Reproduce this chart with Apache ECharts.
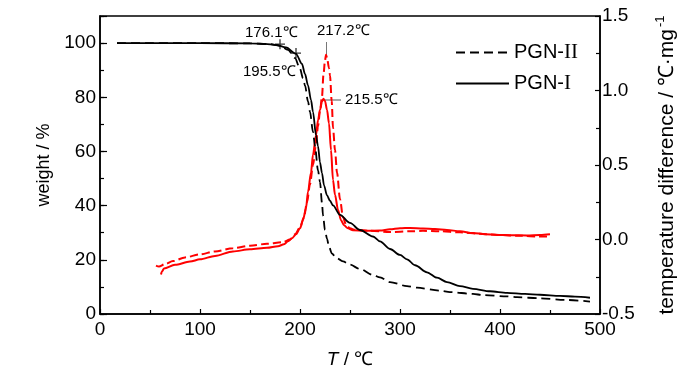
<!DOCTYPE html>
<html>
<head>
<meta charset="utf-8">
<script src="https://cdn.jsdelivr.net/npm/echarts@6/dist/echarts.min.js"></script>
<style>html,body{margin:0;padding:0;background:#fff}#c{width:700px;height:374px}</style>
</head>
<body>
<div id="c"></div>
<script>
// ---- data ----
const xTicks = [0, 100, 200, 300, 400, 500];
const leftTicks = [0, 20, 40, 60, 80, 100];
const rightTicks = [-0.5, 0.0, 0.5, 1.0, 1.5];

// TG curves (T / °C, weight / %)
const tgPGN_I = [[17,100],[50,100],[100,100],[150,99.9],[165,99.7],[176,99.3],[186,98.4],[196,96],[202,92.3],[205,88.6],[208,84.4],[211,79],[213,74.6],[216,66],[218,62],[220,56],[222,52],[224,47.5],[227,43.8],[230,41.8],[233,40.1],[240,36.6],[250,33.6],[260,31],[273,28.6],[280,26.8],[290,24],[300,21.8],[307,20.2],[315,18],[327,15.4],[337,13.4],[347,11.8],[360,10.3],[373,9.3],[390,8.4],[407,7.8],[425,7.4],[440,7.1],[460,6.7],[475,6.4],[490,6.0]];
const tgPGN_II = [[17,100],[50,100],[100,100],[150,99.9],[170,99.6],[180,99.0],[188,97.5],[195,94.5],[200,90.5],[203,87],[205,84.4],[208,78.5],[210,74.6],[213,67.2],[215,62],[218,53],[220,48.7],[222,41],[223,36.4],[225,31],[227,27.8],[229,24.8],[232,22.3],[236,20.8],[243,19.4],[250,18.2],[260,16.6],[273,14.4],[280,13.5],[290,11.8],[307,10.3],[317,9.7],[340,8.6],[350,8.1],[373,7.4],[383,7.0],[407,6.5],[417,6.2],[440,5.8],[465,5.2],[490,4.6]];

// DTA curves (T / °C, temperature difference / °C·mg-1)
const dtaPGN_I = [[61,-0.235],[62,-0.215],[64,-0.195],[75,-0.17],[90,-0.148],[100,-0.133],[115,-0.11],[133,-0.08],[150,-0.066],[167,-0.056],[178,-0.045],[184,-0.032],[188,-0.012],[192,0.008],[196,0.035],[200,0.075],[203,0.13],[206,0.21],[208,0.32],[211,0.45],[213,0.57],[216,0.70],[218,0.80],[220,0.87],[222,0.925],[223.5,0.945],[225,0.93],[227,0.87],[229,0.78],[231,0.6],[233,0.40],[235,0.3],[238,0.2],[241,0.13],[244,0.095],[248,0.075],[253,0.062],[265,0.058],[280,0.06],[290,0.068],[300,0.075],[310,0.078],[323,0.073],[335,0.07],[347,0.064],[360,0.055],[373,0.043],[385,0.036],[397,0.031],[410,0.029],[427,0.027],[440,0.03],[450,0.035]];
const dtaPGN_II = [[56,-0.175],[59,-0.182],[65,-0.165],[73,-0.145],[85,-0.12],[100,-0.1],[115,-0.08],[133,-0.058],[150,-0.042],[167,-0.029],[183,-0.018],[190,0.0],[195,0.035],[200,0.08],[204,0.15],[207,0.25],[210,0.37],[213,0.5],[216,0.64],[218,0.76],[220,0.86],[222,0.96],[223.5,1.11],[225,1.2],[226,1.24],[227,1.22],[229,1.15],[230,1.1],[231.7,0.93],[233,0.75],[235,0.6],[237,0.45],[240,0.27],[243,0.15],[246,0.1],[250,0.075],[255,0.065],[270,0.058],[290,0.05],[310,0.055],[323,0.058],[340,0.055],[360,0.048],[380,0.038],[400,0.03],[420,0.025],[440,0.02],[447,0.02]];

// onset markers on the PGN-I TG curve
const onsetMarks = [[180,99.6],[196,96.3]];

const FONT = 'Liberation Sans, Arial, sans-serif';
const chart = echarts.init(document.getElementById('c'), null, {renderer: 'canvas'});

chart.setOption({
  animation: false,
  backgroundColor: '#fff',
  grid: {left: 100, right: 100, top: 16, bottom: 59, show: true, borderColor: '#000', borderWidth: 1.5, containLabel: false},
  legend: {
    data: ['PGN-II', 'PGN-I'],
    orient: 'vertical', left: 450, top: 37,
    itemWidth: 53, itemHeight: 20, itemGap: 10,
    itemStyle: {opacity: 0},
    formatter: function (n) { return n.replace(/^(PGN-)(I+)$/, '$1{r|$2}'); },
    textStyle: {fontFamily: FONT, fontSize: 20, color: '#000',
      rich: {r: {fontFamily: 'Liberation Serif, Times New Roman, serif', fontSize: 21, color: '#000'}}}
  },
  xAxis: {
    type: 'value', min: 0, max: 500, interval: 100,
    name: '{i|T} / ℃', nameLocation: 'middle', nameGap: 36,
    nameTextStyle: {fontFamily: FONT, fontSize: 19, color: '#000', rich: {i: {fontFamily: FONT, fontSize: 19, fontStyle: 'italic', color: '#000'}}},
    axisLine: {lineStyle: {color: '#000', width: 1.5}},
    axisTick: {inside: true, length: 5, lineStyle: {color: '#000', width: 1.2}},
    minorTick: {show: true, splitNumber: 2, length: 4, lineStyle: {color: '#000', width: 1.2}},
    axisLabel: {fontFamily: FONT, fontSize: 19, color: '#000', margin: 6},
    splitLine: {show: false}
  },
  yAxis: [
    {
      type: 'value', min: 0, max: 110, interval: 20, position: 'left',
      name: 'weight / %', nameLocation: 'middle', nameGap: 46, nameRotate: 90,
      nameTextStyle: {fontFamily: FONT, fontSize: 18, color: '#000'},
      axisLine: {show: true, lineStyle: {color: '#000', width: 1.5}},
      axisTick: {inside: true, length: 7, lineStyle: {color: '#000', width: 1.2}},
      axisLabel: {fontFamily: FONT, fontSize: 19, color: '#000', margin: 4,
        formatter: function (v) { return leftTicks.indexOf(v) >= 0 ? String(v) : ''; }},
      splitLine: {show: false}
    },
    {
      type: 'value', min: -0.5, max: 1.5, interval: 0.5, position: 'right',
      name: 'temperature difference / ℃·mg{s|-1}', nameLocation: 'middle', nameGap: 54, nameRotate: 90,
      nameTextStyle: {fontFamily: FONT, fontSize: 21, color: '#000',
        rich: {s: {fontFamily: FONT, fontSize: 13, color: '#000', padding: [0, 0, 14, 2]}}},
      axisLine: {show: true, lineStyle: {color: '#000', width: 1.5}},
      axisTick: {inside: true, length: 5, lineStyle: {color: '#000', width: 1.2}},
      minorTick: {show: true, splitNumber: 2, length: 4, lineStyle: {color: '#000', width: 1.2}},
      axisLabel: {fontFamily: FONT, fontSize: 19, color: '#000', margin: 2,
        formatter: function (v) { return rightTicks.indexOf(v) >= 0 ? v.toFixed(1) : ''; }},
      splitLine: {show: false}
    },
    {
      // helper axis for short ticks every 10 %
      type: 'value', min: 0, max: 110, interval: 10, position: 'left',
      axisLine: {show: false}, axisLabel: {show: false},
      axisTick: {show: true, inside: true, length: 4, lineStyle: {color: '#000', width: 1.2}},
      splitLine: {show: false}
    }
  ],
  series: [
    {name: 'PGN-II', type: 'line', yAxisIndex: 0, data: tgPGN_II, symbol: 'none', smooth: 0.3, smoothMonotone: 'x',
      lineStyle: {color: '#000', width: 1.8, type: [9, 5]}, itemStyle: {color: '#000'}, z: 3},
    {name: 'PGN-I', type: 'line', yAxisIndex: 0, data: tgPGN_I, symbol: 'none', smooth: 0.3, smoothMonotone: 'x',
      lineStyle: {color: '#000', width: 1.8, type: 'solid'}, itemStyle: {color: '#000'}, z: 3},
    {name: 'DTA PGN-II', type: 'line', yAxisIndex: 1, data: dtaPGN_II, symbol: 'none', smooth: 0.3, smoothMonotone: 'x',
      lineStyle: {color: '#ff0000', width: 2, type: [8, 4]}, itemStyle: {color: '#ff0000'}, z: 2},
    {name: 'DTA PGN-I', type: 'line', yAxisIndex: 1, data: dtaPGN_I, symbol: 'none', smooth: 0.3, smoothMonotone: 'x',
      lineStyle: {color: '#ff0000', width: 2, type: 'solid'}, itemStyle: {color: '#ff0000'}, z: 2},
    {name: 'onset', type: 'scatter', yAxisIndex: 0, data: onsetMarks,
      symbol: 'path://M0,5L10,5M5,0L5,10', symbolSize: 10,
      itemStyle: {color: 'rgba(0,0,0,0)', borderColor: '#000', borderWidth: 1.3}, z: 4}
  ],
  graphic: [
    {type: 'text', left: 245, top: 25, style: {text: '176.1℃', fontFamily: FONT, fontSize: 15, fill: '#000'}},
    {type: 'text', left: 243, top: 64, style: {text: '195.5℃', fontFamily: FONT, fontSize: 15, fill: '#000'}},
    {type: 'text', left: 317, top: 23, style: {text: '217.2℃', fontFamily: FONT, fontSize: 15, fill: '#000'}},
    {type: 'text', left: 345, top: 92, style: {text: '215.5℃', fontFamily: FONT, fontSize: 15, fill: '#000'}},
    {type: 'line', shape: {x1: 326.5, y1: 42, x2: 326.5, y2: 55}, style: {stroke: '#777', lineWidth: 1}},
    {type: 'line', shape: {x1: 325, y1: 100, x2: 341, y2: 100}, style: {stroke: '#555', lineWidth: 1}}
  ]
});
</script>
</body>
</html>
